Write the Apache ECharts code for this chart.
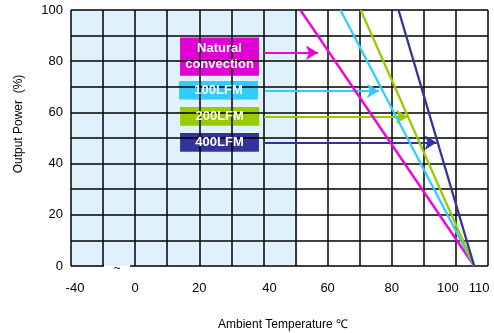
<!DOCTYPE html>
<html>
<head>
<meta charset="utf-8">
<script src="https://cdn.jsdelivr.net/npm/echarts@6/dist/echarts.min.js"></script>
<style>html,body{margin:0;padding:0;background:#fff}#c{width:494px;height:333px}</style>
</head>
<body>
<div id="c"></div>
<script>
// ---- data ----
const seriesNames = ['Natural convection', '100LFM', '200LFM', '400LFM'];
const boxTexts = ['Natural\nconvection', '100LFM', '200LFM', '400LFM'];
const startTemps = [51.5, 64.0, 70.3, 82.1];   // temperature where derating starts (100 %)
const endTemps = [105.7, 105.7, 105.7, 105.7]; // temperature at 0 %
const fullPower = 100;
const zeroPower = 0;
const arrowY = [83.3, 68.4, 58.3, 48.2];
const arrowStartX = [40.0, 40.5, 40.2, 40.2];
const arrowEndX = [57.0, 76.0, 85.0, 94.0];
const boxX = [[14.0, 38.6], [13.7, 38.3], [14.0, 38.7], [14.0, 38.6]];
const boxY = [[89.3, 74.3], [72.3, 65.0], [62.1, 54.8], [52.0, 44.6]];
const shadedRange = [-20, 50.7];
const breakGap = [-9.7, -1.6];
const xTickLabels = { '-20': '-40', '0': '0', '20': '20', '40': '40', '60': '60', '80': '80', '100': '100', '110': '110' };
const yTickLabels = ['0', '20', '40', '60', '80', '100'];
const lineColors = ['#F000E0', '#33CCFF', '#99CC00', '#333399'];
const boxColors = ['#E000D4', '#33CCFF', '#99CC00', '#333399'];

const chart = echarts.init(document.getElementById('c'), null, { renderer: 'canvas' });

const lineSeries = seriesNames.map((n, i) => ({
  name: n, type: 'line', z: 5, showSymbol: false, silent: true,
  lineStyle: { color: lineColors[i], width: 2.3 },
  data: [[startTemps[i], fullPower], [endTemps[i], zeroPower]]
}));

const labelRich = {
  n: { fontSize: 13, color: '#000', fontFamily: 'Liberation Sans, Arial' },
  a: { fontSize: 13, color: '#000', fontFamily: 'Liberation Sans, Arial', padding: [0, 0, 0, 8] },
  b: { fontSize: 13, color: '#000', fontFamily: 'Liberation Sans, Arial', padding: [0, 0, 0, 12] },
  c: { fontSize: 13, color: '#000', fontFamily: 'Liberation Sans, Arial', padding: [0, 16, 0, 0] },
  d: { fontSize: 13, color: '#000', fontFamily: 'Liberation Sans, Arial', padding: [0, 18, 0, 0] }
};

const option = {
  animation: false,
  grid: { left: 71, right: 6, top: 10, bottom: 67, containLabel: false, outerBoundsMode: 'none' },
  xAxis: {
    type: 'value', min: -20, max: 110, interval: 10, z: 3,
    axisLine: { show: false }, axisTick: { show: false },
    splitLine: { show: true, lineStyle: { color: '#000', width: 1.5 } },
    axisLabel: {
      margin: 16, showMinLabel: true, showMaxLabel: true,
      rich: labelRich,
      formatter: function (v) {
        const t = xTickLabels[String(v)];
        if (t === undefined) return '';
        if (v === -20) return '{a|' + t + '}';
        if (v === 40) return '{b|' + t + '}';
        if (v === 100) return '{c|' + t + '}';
        if (v === 110) return '{d|' + t + '}';
        return '{n|' + t + '}';
      }
    },
    name: 'Ambient Temperature ℃', nameLocation: 'middle', nameGap: 53,
    nameTextStyle: { fontSize: 12, color: '#000', fontFamily: 'Liberation Sans, Arial', padding: [0, 0, 0, 7] }
  },
  yAxis: {
    type: 'value', min: 0, max: 100, interval: 10, z: 3,
    axisLine: { show: false }, axisTick: { show: false },
    splitLine: { show: true, showMinLine: false, lineStyle: { color: '#000', width: 1.5 } },
    axisLabel: {
      margin: 8, fontSize: 13, color: '#000', fontFamily: 'Liberation Sans, Arial',
      formatter: function (v) { return yTickLabels.indexOf(String(v)) >= 0 ? String(v) : ''; }
    },
    name: 'Output Power  (%)', nameLocation: 'middle', nameGap: 46,
    nameTextStyle: { fontSize: 12, color: '#000', fontFamily: 'Liberation Sans, Arial', padding: [0, 0, 0, 28] }
  },
  series: [
    {
      type: 'line', z: 1, data: [], silent: true,
      markArea: {
        silent: true, itemStyle: { color: '#DFF1FD' },
        data: [[{ coord: [shadedRange[0], zeroPower] }, { coord: [shadedRange[1], fullPower] }]]
      }
    },
    {
      type: 'line', z: 4, data: [], silent: true,
      markLine: {
        silent: true, symbol: ['none', 'none'], animation: false,
        lineStyle: { color: '#000', width: 1.5, type: 'solid' }, label: { show: false },
        data: [
          [{ coord: [-20, zeroPower] }, { coord: [breakGap[0], zeroPower] }],
          [{ coord: [breakGap[1], zeroPower] }, { coord: [110, zeroPower] }]
        ]
      },
      markPoint: {
        silent: true, symbol: 'circle', symbolSize: 0,
        data: [{ coord: [(breakGap[0] + breakGap[1]) / 2, zeroPower],
          label: { show: true, formatter: '~', color: '#222', fontSize: 12, offset: [0, 3], fontFamily: 'Liberation Sans, Arial',
            textBorderWidth: 0 } }]
      }
    },
    ...lineSeries,
    {
      type: 'line', z: 6, data: [], silent: true,
      markArea: {
        silent: true, label: { show: false },
        data: boxTexts.map((t, i) => [
          { coord: [boxX[i][0], boxY[i][0]], itemStyle: { color: boxColors[i], opacity: 1 } },
          { coord: [boxX[i][1], boxY[i][1]] }
        ])
      },
      markLine: {
        silent: true, symbol: ['none', 'arrow'], symbolSize: [11, 12], animation: false,
        label: { show: false },
        data: arrowY.map((y, i) => [
          { coord: [arrowStartX[i], y], lineStyle: { color: lineColors[i], width: 1.8, type: 'solid' } },
          { coord: [arrowEndX[i], y] }
        ])
      }
    },
    {
      type: 'line', z: 7, data: [], silent: true,
      markPoint: {
        silent: true, symbol: 'rect', symbolSize: 0,
        data: boxTexts.map((t, i) => ({
          coord: [(boxX[i][0] + boxX[i][1]) / 2, (boxY[i][0] + boxY[i][1]) / 2],
          label: { show: true, position: 'inside', formatter: t, color: '#fff', fontWeight: 'bold',
            textBorderWidth: 0, fontSize: 13, lineHeight: 16, fontFamily: 'Liberation Sans, Arial', align: 'center' }
        }))
      }
    }
  ]
};
chart.setOption(option);
</script>
</body>
</html>
